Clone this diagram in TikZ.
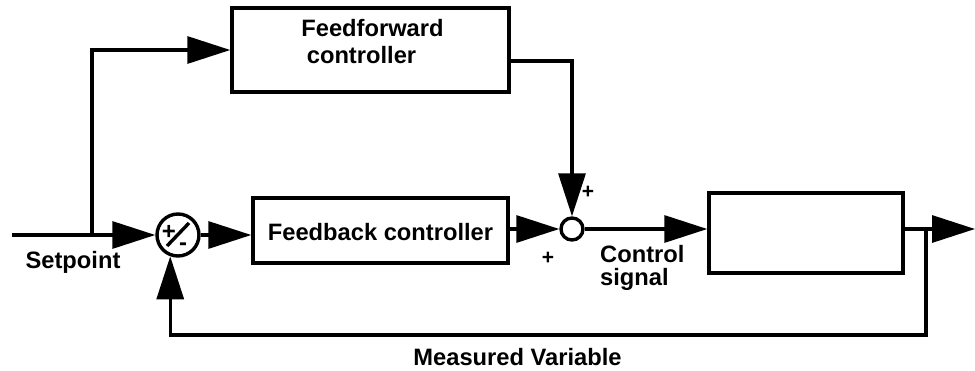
\documentclass[tikz,border=0pt]{standalone}
\usepackage{fontspec}
\setmainfont{Liberation Sans}
\usetikzlibrary{arrows.meta,calc}
\tikzset{
  wire/.style={line width=3.2pt},
  flow/.style={wire, -{Triangle[length=43pt,width=27pt]}},
  blockbox/.style={draw, line width=3.4pt, inner sep=0pt},
  junction/.style={circle, draw, line width=3.4pt, inner sep=0pt},
  lbl/.style={font=\fontsize{23.7}{27}\selectfont\bfseries, inner sep=0pt, anchor=base},
  sign/.style={font=\fontsize{21}{21}\selectfont\bfseries, inner sep=0pt},
}
\begin{document}
\begin{tikzpicture}[x=1pt, y=-1pt]
\useasboundingbox (0,0) rectangle (975,370);

% blocks
\node[blockbox, minimum width=277pt, minimum height=84pt] (ff) at (370.5,50) {};
\node[blockbox, minimum width=255pt, minimum height=65pt] (fb) at (380.5,230.5) {};
\node[blockbox, minimum width=194pt, minimum height=80pt] (plant) at (806,233) {};

% summing junctions
\node[junction, minimum size=42pt] (c1) at (178,235) {};
\node[junction, minimum size=22pt] (c2) at (572,229) {};

% signs
\draw[line width=3.4pt] ($(c1)+(-11,11)$) -- ($(c1)+(11,-12)$);
\node[sign, font=\fontsize{24}{24}\selectfont\bfseries] (c1plus) at (169,232) {+};
\node[sign, font=\fontsize{24}{24}\selectfont\bfseries] (c1minus) at (183,247) {-};
\node[sign] (c2plustop) at (588,192) {+};
\node[sign] (c2plusleft) at (548,258) {+};

% texts
\node[lbl] (fftop) at (372.5,36) {Feedforward};
\node[lbl] (ffbot) at (361.5,63) {controller};
\node[lbl] (fbtext) at (380.5,240) {Feedback controller};
\node[lbl] (sptext) at (73,268) {Setpoint};
\node[lbl, anchor=base west] (cs1) at (600,262) {Control};
\node[lbl, anchor=base west] (cs2) at (600,285) {signal};
\node[lbl] (mvtext) at (517.5,365) {Measured Variable};

% helper points
\coordinate (sp) at (12,235);
\coordinate (tap) at (92,235);
\coordinate (ffo) at (ff.east |- 0,61);
\coordinate (tap2) at (926,229);
\coordinate (bot) at (926,335);
\coordinate (yout) at (975,229);

% connectors
\draw[flow] (sp) -- (c1.west);
\draw[flow] (tap) |- (ff.west);
\draw[flow] (c1.east) -- (c1.east -| fb.west);
\draw[flow] (fb.east |- c2.west) -- (c2.west);
\draw[flow] (ffo) -| (c2.north);
\draw[flow] (c2.east) -- (c2.east -| plant.west);
\draw[flow] (plant.east |- c2) -- (yout);
\draw[flow] (tap2) -- (bot) -| (c1.250);
\end{tikzpicture}
\end{document}
